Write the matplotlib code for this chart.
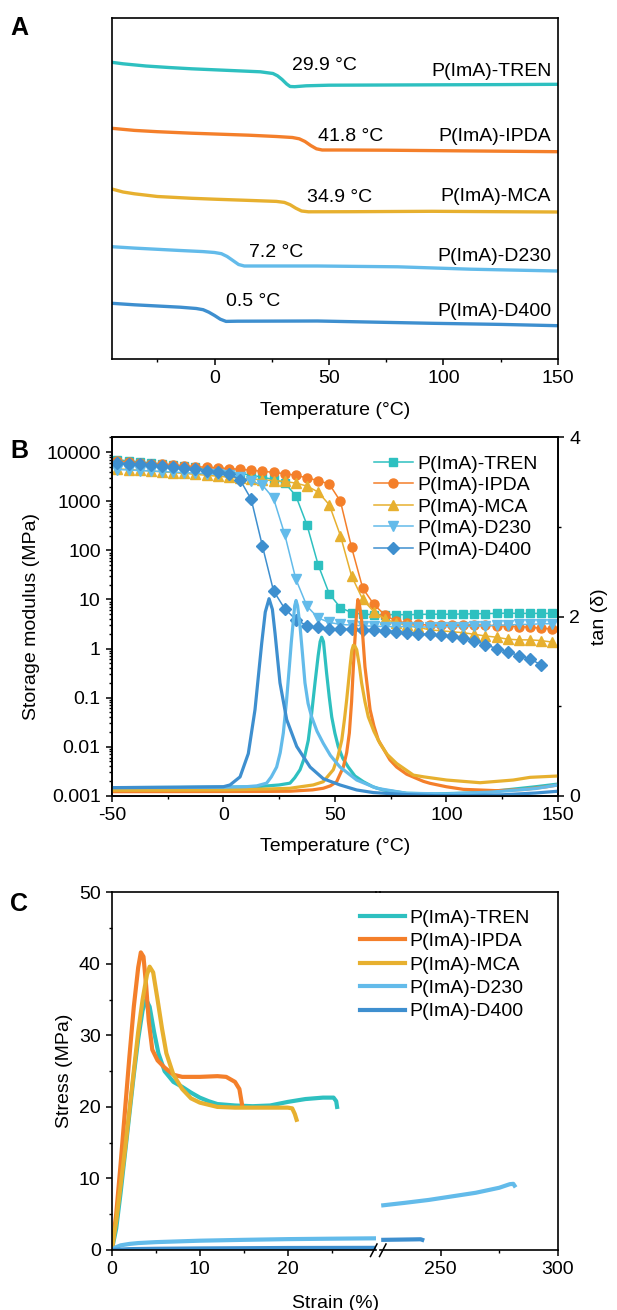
import numpy as np
import matplotlib.pyplot as plt
from matplotlib.lines import Line2D
from matplotlib.ticker import MultipleLocator, FixedLocator, NullFormatter, NullLocator

plt.rcParams['font.family'] = ['Liberation Sans', 'DejaVu Sans']
plt.rcParams['font.size'] = 14
plt.rcParams['axes.linewidth'] = 1.2
plt.rcParams['axes.unicode_minus'] = False
plt.rcParams['xtick.direction'] = 'out'
plt.rcParams['ytick.direction'] = 'out'

# ---- series names / colours ----
names = ['P(ImA)-TREN', 'P(ImA)-IPDA', 'P(ImA)-MCA', 'P(ImA)-D230', 'P(ImA)-D400']
colors = ['#2EC0C0', '#F47F2A', '#E7B02F', '#63BBEA', '#3E8FCF']
markers = ['s', 'o', '^', 'v', 'D']
marker_sizes = [5.5, 6.5, 7, 7, 6]

# ---- A: DSC curves (heat flow, arbitrary units, offset) ----
dsc_tren_t = [-44.9, -40, -30, -20, -10, 0, 10, 20, 25.5, 27.5, 29.5, 31.5, 33, 35, 40, 50, 75, 100, 125, 150]
dsc_tren_hf = [296.7, 295.2, 293.0, 291.5, 290.2, 289.2, 288.2, 287.2, 285.5, 283.2, 279.5, 275.0, 272.5, 272.3, 273.2, 273.8, 274.0, 274.2, 274.4, 274.7]
dsc_ipda_t = [-44.9, -35, -25, -10, 0, 15, 27, 34, 37, 39.5, 42, 44.5, 47, 55, 75, 100, 125, 150]
dsc_ipda_hf = [230.7, 228.6, 227.3, 225.8, 225.0, 223.8, 222.5, 221.5, 220.2, 217.5, 213.5, 210.2, 209.0, 209.0, 208.8, 208.3, 207.8, 207.3]
dsc_mca_t = [-44.9, -40, -35, -25, -10, 0, 15, 27, 30.5, 33, 35.5, 38, 41, 60, 95, 125, 150]
dsc_mca_hf = [170.0, 167.0, 165.2, 162.5, 160.7, 159.8, 158.6, 157.6, 156.6, 154.3, 150.8, 148.0, 147.2, 147.3, 147.7, 147.3, 147.0]
dsc_d230_t = [-44.9, -35, -25, -15, -5, 0, 3, 5.5, 8, 10.5, 13, 20, 45, 80, 112, 150]
dsc_d230_hf = [112.3, 110.9, 109.7, 108.5, 107.4, 106.5, 105.3, 102.5, 98.5, 94.5, 93.0, 93.0, 93.0, 92.2, 89.8, 88.0]
dsc_d400_t = [-44.9, -35, -25, -15, -8, -5, -2.5, 0, 2.5, 5, 10, 45, 95, 125, 150]
dsc_d400_hf = [55.7, 54.2, 53.0, 51.8, 50.5, 49.3, 46.8, 43.5, 39.8, 37.6, 37.8, 38.0, 35.7, 34.6, 33.3]
tg_labels = ['29.9 °C', '41.8 °C', '34.9 °C', '7.2 °C', '0.5 °C']

# ---- B: storage modulus (MPa) on a shared temperature grid ----
t_mod = [-47.5, -42.5, -37.5, -32.5, -27.5, -22.5, -17.5, -12.5, -7.5, -2.5,
         2.5, 7.5, 12.5, 17.5, 22.5, 27.5, 32.5, 37.5, 42.5, 47.5,
         52.5, 57.5, 62.5, 67.5, 72.5, 77.5, 82.5, 87.5, 92.5, 97.5,
         102.5, 107.5, 112.5, 117.5, 122.5, 127.5, 132.5, 137.5, 142.5, 147.5]
mod_tren = [7000, 6700, 6400, 6100, 5800, 5500, 5200, 4900, 4600, 4300,
            4000, 3700, 3400, 3100, 2800, 2400, 1300, 330, 51, 13,
            6.8, 5.4, 5.0, 4.9, 4.9, 4.9, 4.9, 4.95, 5.0, 5.0,
            5.0, 5.05, 5.1, 5.15, 5.2, 5.25, 5.2, 5.2, 5.2, 5.2]
mod_ipda = [6500, 6300, 6100, 5900, 5700, 5500, 5300, 5100, 4950, 4800,
            4650, 4500, 4300, 4100, 3900, 3650, 3400, 3000, 2650, 2250,
            1000, 115, 17, 7.9, 4.8, 3.6, 3.3, 3.1, 3.0, 3.0,
            3.0, 3.0, 3.0, 2.95, 2.9, 2.85, 2.8, 2.7, 2.6, 2.5]
mod_mca = [4600, 4450, 4300, 4150, 4000, 3850, 3700, 3550, 3400, 3250,
           3100, 2950, 2850, 2750, 2650, 2550, 2350, 2050, 1550, 850,
           200, 30, 10, 5.6, 4.0, 3.3, 3.0, 2.7, 2.4, 2.3,
           2.2, 2.1, 1.95, 1.8, 1.7, 1.55, 1.5, 1.5, 1.45, 1.35]
mod_d230 = [4450, 4350, 4250, 4150, 4050, 3950, 3850, 3750, 3650, 3550,
            3400, 3100, 2600, 2150, 1150, 215, 26, 7.3, 4.2, 3.4,
            3.1, 3.0, 2.9, 2.85, 2.8, 2.8, 2.8, 2.75, 2.75, 2.75,
            2.8, 2.8, 2.85, 2.9, 3.0, 3.0, 3.1, 3.1, 3.2, 3.2]
mod_d400 = [6100, 5900, 5650, 5400, 5200, 5000, 4750, 4500, 4250, 3950,
            3600, 2750, 1100, 124, 15, 6.5, 3.9, 2.9, 2.7, 2.55,
            2.5, 2.45, 2.4, 2.35, 2.3, 2.2, 2.1, 2.0, 1.95, 1.9,
            1.8, 1.65, 1.45, 1.2, 1.0, 0.85, 0.72, 0.62, 0.46, np.nan]

# ---- B: tan delta ----
tan_tren_t = [-50, -20, 0, 15, 25, 29.9, 32, 34.4, 36.3, 38.1, 39.6, 41.1, 42.5, 43.4, 44.1, 44.9, 46.3, 47.5,
              48.6, 50, 51.5, 53.5, 56, 59, 62.8, 67, 71.7, 82.2, 95, 110, 125, 140, 150]
tan_tren = [0.09, 0.092, 0.095, 0.10, 0.12, 0.14, 0.20, 0.29, 0.42, 0.62, 0.92, 1.26, 1.56, 1.72, 1.77, 1.72, 1.37, 1.10,
            0.88, 0.70, 0.55, 0.42, 0.32, 0.22, 0.156, 0.10, 0.064, 0.027, 0.02, 0.03, 0.06, 0.10, 0.13]
tan_ipda_t = [-50, -20, 0, 20, 29.9, 40, 44.8, 48, 50.8, 53.8, 55.3, 56.5, 57.5, 58.3, 59.5, 60.3, 61.1, 62, 63.5,
              65.8, 67.5, 69.5, 74.7, 77.7, 82.2, 89.7, 92.7, 100, 107.6, 122.6, 135, 145, 150]
tan_ipda = [0.045, 0.046, 0.047, 0.048, 0.05, 0.065, 0.083, 0.11, 0.156, 0.32, 0.48, 0.70, 1.05, 1.44, 1.96, 2.19,
            2.12, 1.96, 1.44, 0.96, 0.78, 0.62, 0.40, 0.32, 0.24, 0.16, 0.138, 0.10, 0.071, 0.056, 0.07, 0.10, 0.12]
tan_mca_t = [-50, -20, 0, 20, 29.9, 40.3, 44.8, 49.3, 51.3, 53.1, 54.3, 55.3, 56.8, 57.6, 58.3, 59.0, 59.8, 61, 62,
             63.5, 65, 67.5, 70.2, 73.5, 77.7, 85.2, 90, 100.1, 115.1, 130, 137.5, 150]
tan_mca = [0.06, 0.062, 0.065, 0.075, 0.083, 0.12, 0.156, 0.29, 0.43, 0.62, 0.85, 1.07, 1.44, 1.62, 1.68, 1.67, 1.63,
           1.45, 1.26, 1.05, 0.88, 0.72, 0.585, 0.46, 0.36, 0.23, 0.21, 0.175, 0.145, 0.175, 0.205, 0.22]
tan_d230_t = [-50, -20, 0, 10, 15, 19.4, 21.5, 23.9, 25.5, 26.9, 28.3, 29.6, 30.5, 31.4, 32.0, 32.6, 33.3, 34.4,
              35.5, 36.6, 38, 39.6, 42, 44.8, 48, 52.3, 59.8, 68.8, 82.2, 100, 120, 140, 150]
tan_d230 = [0.09, 0.092, 0.095, 0.10, 0.11, 0.14, 0.21, 0.32, 0.48, 0.70, 1.05, 1.44, 1.72, 1.96, 2.12, 2.18, 2.12,
            1.89, 1.58, 1.26, 1.03, 0.88, 0.72, 0.585, 0.45, 0.32, 0.175, 0.083, 0.027, 0.02, 0.04, 0.08, 0.12]
tan_d400_t = [-50, -20, 0, 3, 7.5, 11.2, 14.2, 15.7, 17.2, 18.8, 20.5, 22, 23.2, 25.4, 28.4, 32.9, 38.9, 44.8,
              52.3, 59.8, 67.2, 80, 95, 110, 125, 140, 150]
tan_d400 = [0.09, 0.095, 0.10, 0.12, 0.21, 0.47, 0.96, 1.33, 1.70, 2.05, 2.20, 2.08, 1.81, 1.26, 0.85, 0.55, 0.32,
            0.19, 0.12, 0.064, 0.035, 0.015, 0.0, 0.0, 0.01, 0.03, 0.05]

# ---- C: stress-strain (left part 0-30 %, right part after the axis break) ----
ss_tren_x = [0, 0.5, 1, 1.5, 2, 2.5, 3, 3.5, 3.9, 4.3, 4.8, 5.3, 6, 7, 8, 9, 10, 11, 12, 14, 16, 18, 20, 22, 24, 25.2, 25.5, 25.6]
ss_tren_y = [0, 3, 8, 13.5, 19, 24.5, 29.5, 33.5, 35.0, 34.0, 30.5, 27.5, 25, 23.5, 22.8, 22, 21.3, 20.8, 20.4, 20.2, 20.1, 20.2, 20.7, 21.1, 21.3, 21.3, 20.8, 20.0]
ss_ipda_x = [0, 0.5, 1, 1.5, 2, 2.5, 3, 3.3, 3.6, 3.9, 4.2, 4.6, 5.2, 6, 7, 8, 10, 12, 13, 14, 14.5, 14.8]
ss_ipda_y = [0, 5, 12, 19.5, 27, 34, 39.5, 41.6, 41, 37, 32, 28, 26.5, 25.5, 24.5, 24.2, 24.2, 24.3, 24.2, 23.5, 22.5, 20.3]
ss_mca_x = [0, 0.5, 1, 1.5, 2, 2.5, 3, 3.5, 4, 4.3, 4.7, 5.2, 5.7, 6.2, 7, 8, 9, 10, 12, 14, 16, 18, 20, 20.5, 20.8, 21]
ss_mca_y = [0, 4, 9, 14, 19.5, 25, 30.5, 35, 38.5, 39.6, 38.8, 35, 31, 27.5, 24.5, 22.5, 21.2, 20.6, 20.0, 19.9, 19.9, 19.9, 19.9, 19.8, 19.0, 18.2]
ss_d230_x = [0, 0.5, 1, 2, 3, 5, 10, 15, 20, 25, 29.8]
ss_d230_y = [0, 0.4, 0.65, 0.85, 0.97, 1.1, 1.3, 1.42, 1.52, 1.58, 1.63]
ss_d400_x = [0, 2, 5, 10, 20, 29.8]
ss_d400_y = [0, 0.12, 0.17, 0.22, 0.28, 0.3]
ss_d230_x2 = [225.6, 235, 245, 255, 265, 275, 279.5, 281, 281.5]
ss_d230_y2 = [6.25, 6.6, 7.0, 7.5, 8.0, 8.7, 9.2, 9.25, 9.0]
ss_d400_x2 = [225.6, 232, 238, 241.5, 242.2]
ss_d400_y2 = [1.42, 1.45, 1.48, 1.5, 1.42]

W, H = 617, 1310
fig = plt.figure(figsize=(W / 100, H / 100), dpi=100)


def frac(px_left, px_top, px_right, px_bottom):
    # pixel box -> figure fraction rectangle
    return [px_left / W, 1 - px_bottom / H, (px_right - px_left) / W, (px_bottom - px_top) / H]


def style_ticks(ax):
    ax.tick_params(which='major', length=4, width=1.1, labelsize=14, pad=4)
    ax.tick_params(which='minor', length=2.5, width=1.0)


# ================= Panel A =================
axA = fig.add_axes(frac(111.8, 18.3, 557.9, 359))
dsc_t = [dsc_tren_t, dsc_ipda_t, dsc_mca_t, dsc_d230_t, dsc_d400_t]
dsc_hf = [dsc_tren_hf, dsc_ipda_hf, dsc_mca_hf, dsc_d230_hf, dsc_d400_hf]
for t, hf, c in zip(dsc_t, dsc_hf, colors):
    axA.plot(t, hf, color=c, lw=2.4, solid_capstyle='round')
axA.set_xlim(-44.9, 150)
axA.set_ylim(0, 340.7)
axA.xaxis.set_major_locator(FixedLocator([0, 50, 100, 150]))
axA.xaxis.set_minor_locator(FixedLocator([-25, 25, 75, 125]))
axA.yaxis.set_major_locator(NullLocator())
style_ticks(axA)
axA.set_xlabel('Temperature (°C)', fontsize=14)
axA.xaxis.set_label_coords(0.5, -0.126)

tg_pos = [(48.2, 293.3), (59.4, 222.3), (54.5, 161.3), (26.7, 106.7), (16.7, 58.0)]
name_y = [288.0, 222.3, 162.3, 102.3, 47.3]
for (tx, ty), lab, ny, nm in zip(tg_pos, tg_labels, name_y, names):
    axA.text(tx, ty, lab, ha='center', va='center', fontsize=14)
    axA.text(147.1, ny, nm, ha='right', va='center', fontsize=14)

# ================= Panel B =================
axB = fig.add_axes(frac(111.8, 437.5, 557.9, 795.7))
mods = [mod_tren, mod_ipda, mod_mca, mod_d230, mod_d400]
handles = []
for m, c, mk, ms, nm in zip(mods, colors, markers, marker_sizes, names):
    h, = axB.plot(t_mod, m, color=c, lw=1.1, marker=mk, ms=ms, mec=c, mfc=c, label=nm)
    handles.append(h)
axB.set_yscale('log')
axB.set_xlim(-50, 150)
axB.set_ylim(1e-3, 2e4)
axB.set_yticks([1e-3, 1e-2, 1e-1, 1, 10, 100, 1000, 10000])
axB.set_yticklabels(['0.001', '0.01', '0.1', '1', '10', '100', '1000', '10000'])
axB.yaxis.set_minor_formatter(NullFormatter())
axB.xaxis.set_major_locator(MultipleLocator(50))
axB.xaxis.set_minor_locator(MultipleLocator(25))
style_ticks(axB)
axB.set_xlabel('Temperature (°C)', fontsize=14)
axB.xaxis.set_label_coords(0.5, -0.118)
axB.set_ylabel('Storage modulus (MPa)', fontsize=14)
axB.yaxis.set_label_coords(-0.162, 0.5)

axB2 = axB.twinx()
tans_t = [tan_tren_t, tan_ipda_t, tan_mca_t, tan_d230_t, tan_d400_t]
tans = [tan_tren, tan_ipda, tan_mca, tan_d230, tan_d400]
for t, v, c in zip(tans_t, tans, colors):
    axB2.plot(t, v, color=c, lw=2.3)
axB2.set_ylim(0, 4)
axB2.yaxis.set_major_locator(FixedLocator([0, 2, 4]))
axB2.yaxis.set_minor_locator(FixedLocator([1, 3]))
style_ticks(axB2)
axB2.set_ylabel('tan (δ)', fontsize=14)
axB2.yaxis.set_label_coords(1.075, 0.5)

fig.legend(handles=handles, loc='upper left', bbox_to_anchor=(374 / W, 1 - 455 / H),
           frameon=False, fontsize=14, handlelength=2.0, handletextpad=0.25,
           labelspacing=0.2, borderpad=0, borderaxespad=0)

# ================= Panel C (broken x axis) =================
c_top, c_bot = 892.3, 1250
axC1 = fig.add_axes(frac(111.8, c_top, 375.8, c_bot))
axC2 = fig.add_axes(frac(380.0, c_top, 557.9, c_bot))

ss_x = [ss_tren_x, ss_ipda_x, ss_mca_x, ss_d230_x, ss_d400_x]
ss_y = [ss_tren_y, ss_ipda_y, ss_mca_y, ss_d230_y, ss_d400_y]
c_handles = []
for x, y, c, nm in zip(ss_x, ss_y, colors, names):
    h, = axC1.plot(x, y, color=c, lw=3.0, label=nm)
    c_handles.append(h)
axC2.plot(ss_d230_x2, ss_d230_y2, color=colors[3], lw=3.0)
axC2.plot(ss_d400_x2, ss_d400_y2, color=colors[4], lw=3.0)

for ax in (axC1, axC2):
    ax.set_ylim(0, 50)
    style_ticks(ax)
axC1.set_xlim(0, 30)
axC2.set_xlim(224.2, 300)
axC1.xaxis.set_major_locator(FixedLocator([0, 10, 20]))
axC1.xaxis.set_minor_locator(FixedLocator([5, 15, 25]))
axC2.xaxis.set_major_locator(FixedLocator([250, 300]))
axC2.xaxis.set_minor_locator(FixedLocator([275]))
axC1.yaxis.set_major_locator(MultipleLocator(10))
axC1.yaxis.set_minor_locator(MultipleLocator(5))
axC1.spines['right'].set_visible(False)
axC2.spines['left'].set_visible(False)
axC2.yaxis.set_major_locator(NullLocator())
axC1.set_ylabel('Stress (MPa)', fontsize=14)
axC1.yaxis.set_label_coords(-0.147, 0.5)

# close the top frame across the break and draw the break marks
fig.add_artist(Line2D([375.8 / W, 380 / W], [1 - c_top / H] * 2, color='black', lw=1.2))
for x0 in (370.5, 379.5):
    fig.add_artist(Line2D([x0 / W, (x0 + 6.5) / W], [1 - 1256.5 / H, 1 - 1244 / H], color='black', lw=1.1))

fig.text(336 / W, 1 - 1303 / H, 'Strain (%)', ha='center', va='center', fontsize=14)

fig.legend(handles=c_handles, loc='upper left', bbox_to_anchor=(360 / W, 1 - 909 / H),
           frameon=False, fontsize=14, handlelength=2.3, handletextpad=0.25,
           labelspacing=0.3, borderpad=0, borderaxespad=0)

# panel letters
for lab, top in (('A', 16), ('B', 439), ('C', 892)):
    fig.text(10 / W, 1 - top / H, lab, ha='left', va='top', fontsize=18, fontweight='bold')

fig.savefig('out.png', dpi=100)
